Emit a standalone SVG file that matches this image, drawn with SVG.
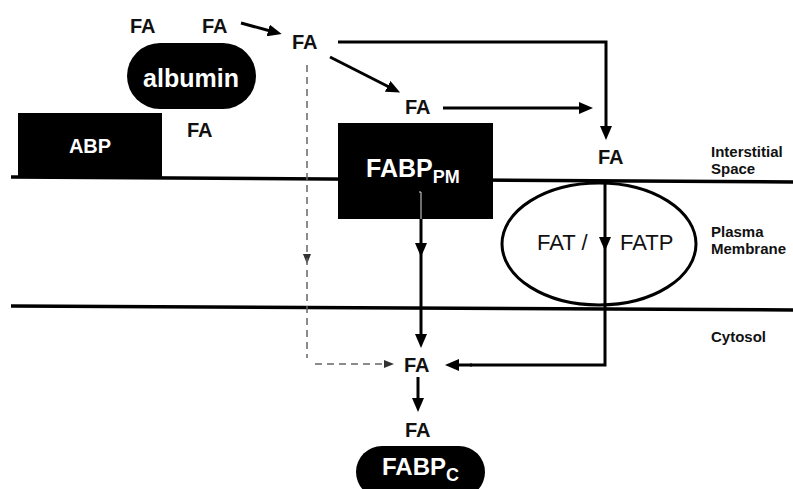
<svg xmlns="http://www.w3.org/2000/svg" width="793" height="489" viewBox="0 0 793 489">
<defs>
<style>
text { font-family: "Liberation Sans", Arial, sans-serif; }
.fa { font-size: 20px; font-weight: bold; fill: #111; }
.wt { fill: #fff; font-weight: bold; }
.side { font-size: 15px; font-weight: bold; fill: #111; }
.blk { fill: #000; }
.mem { stroke: #000; stroke-width: 3.5; fill: none; }
.arr { stroke: #000; stroke-width: 3; fill: none; marker-end: url(#ah); }
.ln { stroke: #000; stroke-width: 3; fill: none; }
.dash { stroke: #666; stroke-width: 1.5; fill: none; stroke-dasharray: 7 5; }
.dasharr { stroke: #666; stroke-width: 1.5; fill: none; stroke-dasharray: 7 5; marker-end: url(#dh); }
</style>
<marker id="ah" markerUnits="userSpaceOnUse" markerWidth="14" markerHeight="12" viewBox="0 0 14 12" refX="6" refY="6" orient="auto">
<path d="M0,0 L14,6 L0,12 z" fill="#000"/>
</marker>
<marker id="dh" markerUnits="userSpaceOnUse" markerWidth="10" markerHeight="8" viewBox="0 0 10 8" refX="2" refY="4" orient="auto">
<path d="M0,0 L10,4 L0,8 z" fill="#333"/>
</marker>
</defs>
<rect width="793" height="489" fill="#fff"/>

<g id="membrane">
<line class="mem" x1="11" y1="177" x2="793" y2="182"/>
<line class="mem" x1="11" y1="306" x2="793" y2="310"/>
</g>

<g id="regions">
<text class="side" x="711" y="157">Interstitial</text>
<text class="side" x="711" y="174">Space</text>
<text class="side" x="711" y="237">Plasma</text>
<text class="side" x="711" y="254">Membrane</text>
<text class="side" x="711" y="342">Cytosol</text>
</g>

<g id="albumin">
<rect class="blk" x="127" y="43" width="129" height="66" rx="33"/>
<text class="wt" x="191" y="87" font-size="25" text-anchor="middle">albumin</text>
</g>

<g id="abp">
<rect class="blk" x="18" y="113" width="144" height="65"/>
<text class="wt" x="90" y="153" font-size="20" text-anchor="middle">ABP</text>
</g>

<g id="fabp-pm">
<rect class="blk" x="338" y="123" width="155" height="96"/>
<text class="wt" x="366" y="177" font-size="25">FABP<tspan font-size="18" dy="6">PM</tspan></text>
<path d="M419,192 H421 V219" stroke="#ddd" stroke-width="1" fill="none"/>
</g>

<g id="fat-fatp">
<ellipse cx="599" cy="244" rx="97" ry="61" fill="none" stroke="#000" stroke-width="3"/>
<text x="537" y="250" font-size="22" fill="#111">FAT /</text>
<text x="620" y="250" font-size="22" fill="#111">FATP</text>
</g>

<g id="fabp-c">
<rect class="blk" x="356" y="446" width="129" height="52" rx="26"/>
<text class="wt" x="382" y="475" font-size="24">FABP<tspan font-size="18" dy="6">C</tspan></text>
</g>

<g id="fa-labels">
<text class="fa" x="130" y="33">FA</text>
<text class="fa" x="202" y="33">FA</text>
<text class="fa" x="292" y="49">FA</text>
<text class="fa" x="187" y="137">FA</text>
<text class="fa" x="405" y="114">FA</text>
<text class="fa" x="598" y="164">FA</text>
<text class="fa" x="404" y="372">FA</text>
<text class="fa" x="405" y="437">FA</text>
</g>

<g id="connectors">
<path class="arr" d="M241,23 L274,32"/>
<path class="arr" d="M330,57 L393,89"/>
<path class="arr" d="M338,42 H606 V132"/>
<path class="arr" d="M443,108 H585"/>
<path class="arr" d="M605,181 V243"/>
<path class="ln" d="M605,240 V365 H470"/>
<path class="arr" d="M472,365 H453"/>
<path class="arr" d="M421,219 V249"/>
<path class="arr" d="M421,246 V340"/>
<path class="arr" d="M418,377 V404"/>
<path class="dasharr" d="M307,65 V256"/>
<path class="dash" d="M307,258 V358"/>
<path class="dasharr" d="M315,364 H386"/>
</g>
</svg>
